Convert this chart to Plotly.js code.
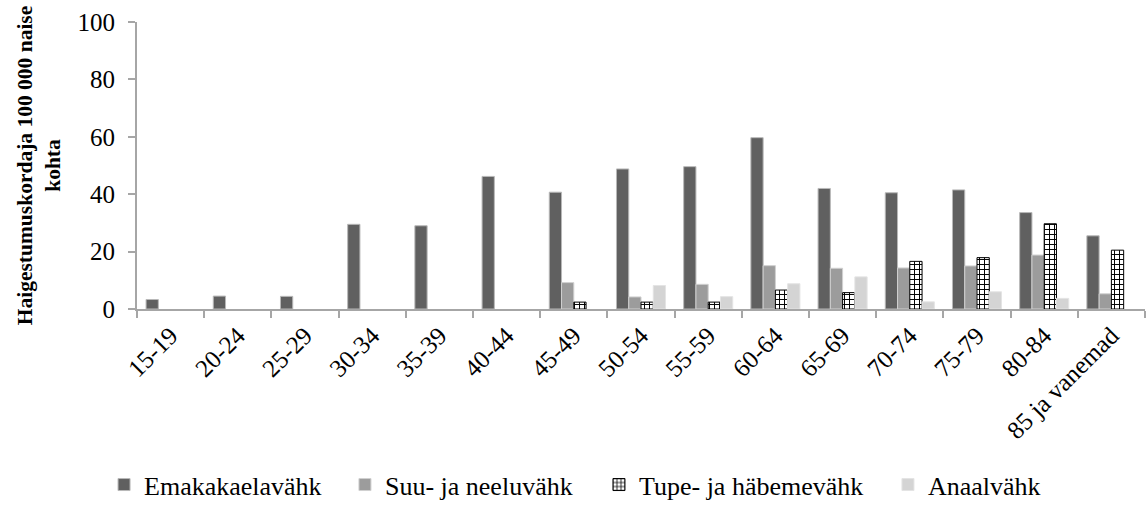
<!DOCTYPE html>
<html>
<head>
<meta charset="utf-8">
<script src="https://cdn.plot.ly/plotly-3.0.1.min.js"></script>
<style>html,body{margin:0;padding:0;background:#fff;}#chart{width:1148px;height:511px;}</style>
</head>
<body>
<div id="chart"></div>
<script>
const categories = ["15-19","20-24","25-29","30-34","35-39","40-44","45-49","50-54","55-59","60-64","65-69","70-74","75-79","80-84","85 ja vanemad"];
const emakakael = [3.3, 4.5, 4.4, 29.5, 29.0, 46.2, 40.7, 48.8, 49.6, 59.7, 42.0, 40.5, 41.5, 33.6, 25.5];
const suuNeelu  = [null, null, null, null, null, null, 9.2, 4.2, 8.6, 15.1, 14.2, 14.3, 15.0, 18.8, 5.3];
const tupe      = [null, null, null, null, null, null, 2.4, 2.4, 2.4, 6.6, 5.7, 16.6, 17.9, 29.7, 20.5];
const anaal     = [null, null, null, null, null, null, null, 8.2, 4.3, 8.8, 11.2, 2.5, 6.0, 3.7, null];
const seriesNames = ["Emakakaelavähk","Suu- ja neeluvähk","Tupe- ja häbemevähk","Anaalvähk"];
const yTitle = "Haigestumuskordaja 100 000 naise<br>kohta";

const font = "Liberation Serif";
const traces = [
  {type:"bar", name:seriesNames[0], legend:"legend", x:categories, y:emakakael, marker:{color:"#606060", line:{color:"#b8b8b8", width:1}}},
  {type:"bar", name:seriesNames[1], legend:"legend2", x:categories, y:suuNeelu, marker:{color:"#9c9c9c", line:{color:"#d0d0d0", width:1}}},
  {type:"bar", name:seriesNames[2], legend:"legend3", x:categories, y:tupe, marker:{color:"#ffffff", line:{color:"#000000", width:1}, pattern:{shape:"+", fgcolor:"#000000", bgcolor:"#ffffff", size:5, solidity:0.35}}},
  {type:"bar", name:seriesNames[3], legend:"legend4", x:categories, y:anaal, marker:{color:"#d4d4d4", line:{color:"#e4e4e4", width:1}}}
];
function leg(x){
  return {orientation:"h", x:x, xanchor:"left", y:-0.612, yanchor:"middle", font:{family:font, size:26, color:"#000"}, itemwidth:30, bgcolor:"rgba(0,0,0,0)"};
}
const layout = {
  width:1148, height:511,
  margin:{l:137, r:3, t:22, b:198},
  paper_bgcolor:"#ffffff", plot_bgcolor:"#ffffff",
  font:{family:font, size:25, color:"#000"},
  barmode:"group", bargap:0.27, bargroupgap:0,
  showlegend:true,
  legend:leg(-0.0327), legend2:leg(0.2063), legend3:leg(0.4583), legend4:leg(0.745),
  xaxis:{type:"category", tickson:"boundaries", ticks:"outside", ticklen:7, tickcolor:"#a6a6a6", tickwidth:2,
         showline:true, linecolor:"#a6a6a6", linewidth:2, tickangle:-45, showgrid:false, zeroline:false,
         tickfont:{family:font, size:25, color:"#000"}},
  yaxis:{range:[0,100], dtick:20, ticks:"outside", ticklen:7, tickcolor:"#a6a6a6", tickwidth:2,
         showline:true, linecolor:"#a6a6a6", linewidth:2, showgrid:false, zeroline:false,
         ticklabelstandoff:8, tickfont:{family:font, size:25, color:"#000"},
         title:{text:yTitle, font:{family:font, size:21.5, weight:"bold", color:"#000"}, standoff:11}}
};
Plotly.newPlot("chart", traces, layout, {displayModeBar:false, staticPlot:true});
</script>
</body>
</html>
